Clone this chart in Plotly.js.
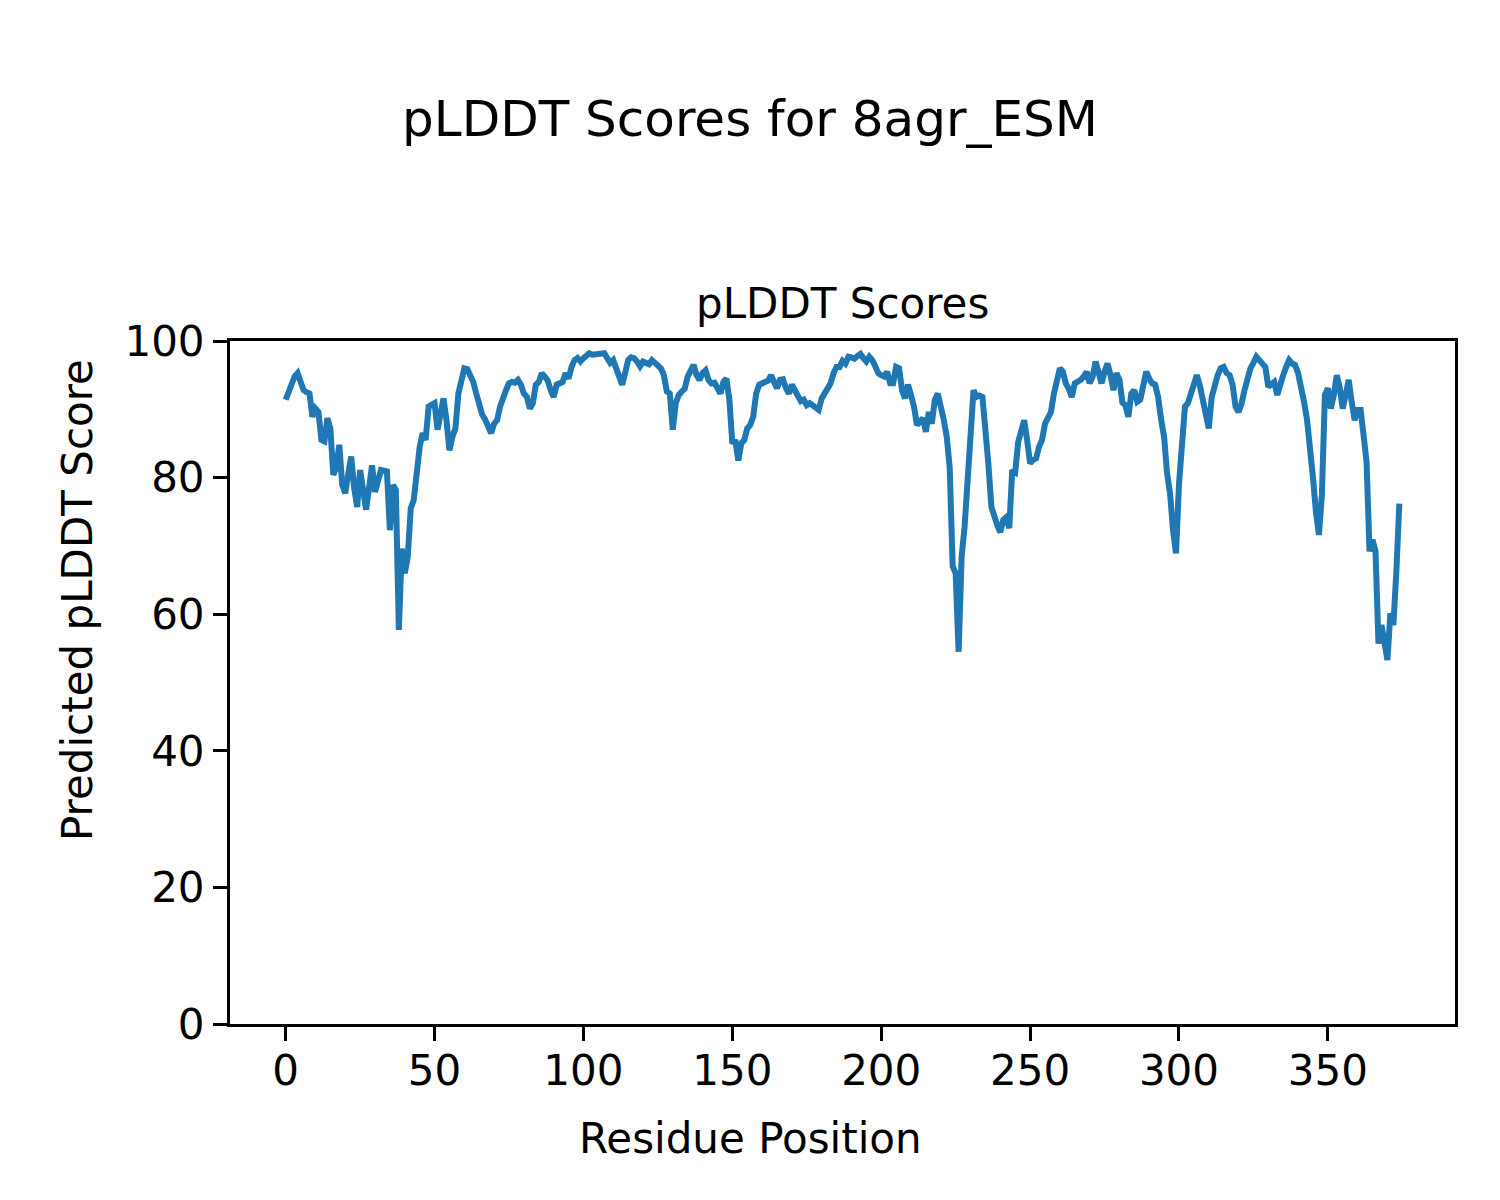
<!DOCTYPE html>
<html>
<head>
<meta charset="utf-8">
<script src="https://cdn.plot.ly/plotly-3.0.1.min.js"></script>
<style>html,body{margin:0;padding:0;background:#fff;}</style>
</head>
<body>
<div id="chart" style="width:1500px;height:1200px;"></div>
<script>
const figureTitle = "pLDDT Scores for 8agr_ESM";
const axesTitle = "pLDDT Scores";
const xLabel = "Residue Position";
const yLabel = "Predicted pLDDT Score";
const xTickVals = [0, 50, 100, 150, 200, 250, 300, 350];
const yTickVals = [0, 20, 40, 60, 80, 100];

// pLDDT score per residue (residue 0 .. 374)
const scores = [
  91.4, 92.6, 93.8, 94.8, 95.3, 94.0, 92.8, 92.5, 92.3, 88.9,
  90.1, 89.6, 85.5, 85.3, 88.7, 87.2, 80.4, 81.4, 84.8, 78.9,
  77.7, 80.5, 83.1, 78.5, 75.7, 81.1, 78.0, 75.3, 78.5, 81.8,
  77.9, 79.2, 81.1, 81.0, 80.9, 72.3, 78.9, 78.2, 57.7, 69.6,
  66.0, 68.4, 75.5, 76.7, 81.6, 84.5, 86.5, 85.5, 90.4, 90.7,
  90.9, 87.0, 88.9, 91.6, 88.4, 84.0, 86.0, 87.2, 92.3, 94.3,
  96.0, 95.9, 95.0, 94.0, 92.3, 90.6, 89.2, 88.5, 87.6, 86.5,
  87.9, 88.4, 90.4, 91.8, 92.8, 93.8, 94.0, 93.9, 94.3, 93.6,
  92.3, 91.8, 90.1, 90.9, 93.6, 94.0, 95.3, 94.8, 94.2, 92.8,
  91.8, 93.6, 93.8, 94.0, 95.3, 94.5, 96.2, 97.2, 97.5, 97.0,
  97.5, 97.8, 98.2, 98.0, 98.0, 98.0, 98.0, 98.2, 97.5, 96.8,
  97.2, 96.0, 94.5, 93.6, 95.3, 97.2, 97.6, 97.5, 97.0, 96.3,
  97.0, 96.7, 96.6, 97.2, 96.8, 96.6, 96.0, 95.0, 92.6, 92.3,
  87.0, 90.9, 92.1, 92.6, 93.0, 94.8, 95.8, 96.5, 95.0, 94.3,
  95.3, 95.7, 94.3, 93.8, 93.9, 93.1, 92.3, 94.0, 94.5, 91.5,
  85.0, 85.5, 82.5, 85.0, 85.5, 87.2, 87.7, 88.9, 92.3, 93.6,
  93.9, 94.0, 94.2, 95.0, 94.0, 93.1, 94.3, 94.4, 93.1, 92.3,
  93.6, 92.8, 91.8, 91.2, 91.4, 90.6, 90.9, 90.6, 90.4, 89.9,
  91.6, 92.3, 93.0, 93.8, 95.3, 96.2, 96.2, 97.1, 96.7, 97.7,
  97.6, 97.4, 97.8, 98.1, 97.5, 97.0, 97.7, 97.2, 96.3, 95.3,
  95.0, 94.8, 95.5, 93.8, 93.8, 96.2, 96.0, 92.8, 91.6, 93.6,
  92.1, 90.4, 87.7, 88.2, 88.7, 86.7, 89.6, 87.9, 91.4, 92.3,
  90.6, 88.5, 86.0, 81.5, 67.0, 66.0, 54.5, 68.4, 72.8, 80.7,
  88.5, 92.8, 91.8, 92.0, 91.8, 87.5, 82.0, 75.7, 74.2, 73.0,
  72.0, 73.8, 74.2, 72.6, 81.1, 80.8, 85.2, 87.0, 88.4, 85.5,
  82.1, 82.6, 82.8, 84.5, 85.5, 87.9, 88.7, 89.6, 92.3, 94.5,
  96.0, 95.5, 93.8, 93.0, 91.8, 93.8, 94.0, 94.3, 94.8, 95.5,
  93.8, 94.8, 97.0, 95.3, 93.8, 95.5, 96.7, 95.0, 92.8, 95.3,
  94.3, 91.0, 90.6, 88.9, 92.3, 92.8, 91.1, 91.4, 93.5, 95.5,
  94.5, 93.8, 93.6, 91.8, 88.5, 86.0, 80.6, 77.7, 72.3, 68.9,
  79.0, 86.5, 90.4, 90.9, 92.5, 93.8, 95.0, 93.5, 91.5, 89.5,
  87.2, 91.8, 93.5, 95.0, 96.0, 96.2, 95.3, 95.0, 93.6, 90.4,
  89.6, 90.8, 92.8, 94.5, 96.0, 96.8, 97.7, 97.2, 96.7, 96.2,
  93.3, 93.6, 94.0, 92.1, 93.8, 95.0, 96.2, 97.2, 96.7, 96.5,
  95.3, 93.6, 91.1, 88.5, 85.0, 80.0, 75.0, 71.6, 77.5, 92.1,
  93.1, 90.1, 92.1, 95.0, 93.1, 90.1, 92.1, 94.3, 91.1, 88.4,
  89.9, 89.9, 86.2, 82.3, 69.2, 70.9, 69.2, 55.7, 58.4, 55.7,
  53.3, 60.1, 58.4, 66.2, 76.2
];
const residues = scores.map((_, i) => i);

const FONT = "DejaVu Sans, sans-serif";
const L = 230, R = 45, T = 341, B = 176, W = 1500, H = 1200;
const pw = W - L - R, ph = H - T - B;
const px2paperX = px => (px - L) / pw;
const py2paperY = py => (H - B - py) / ph;

const trace = {
  x: residues,
  y: scores,
  type: "scatter",
  mode: "lines",
  line: {color: "#1f77b4", width: 6},
  hoverinfo: "skip"
};

const n = scores.length - 1;
const pad = n * 0.05;

const layout = {
  width: W, height: H,
  margin: {l: L, r: R, t: T, b: B, pad: 0},
  paper_bgcolor: "#ffffff",
  plot_bgcolor: "#ffffff",
  showlegend: false,
  font: {family: FONT, color: "#000000", size: 42},
  title: {
    text: figureTitle,
    font: {family: FONT, size: 50, color: "#000000"},
    x: 0.5, xref: "container", xanchor: "center",
    y: 1 - 118 / H, yref: "container", yanchor: "middle"
  },
  xaxis: {
    range: [-pad, n + pad],
    tickmode: "array",
    tickvals: xTickVals,
    ticktext: xTickVals.map(String),
    ticks: "outside", ticklen: 14, tickwidth: 3, tickcolor: "#000",
    ticklabelstandoff: -6,
    showline: true, linecolor: "#000", linewidth: 3, mirror: true,
    showgrid: false, zeroline: false,
    tickfont: {family: FONT, size: 42, color: "#000"}
  },
  yaxis: {
    range: [0, 100],
    tickmode: "array",
    tickvals: yTickVals,
    ticktext: yTickVals.map(String),
    ticks: "outside", ticklen: 14, tickwidth: 3, tickcolor: "#000",
    showline: true, linecolor: "#000", linewidth: 3, mirror: true,
    showgrid: false, zeroline: false,
    tickfont: {family: FONT, size: 42, color: "#000"}
  },
  annotations: [
    {
      text: axesTitle, showarrow: false,
      xref: "paper", yref: "paper",
      x: 0.5, y: py2paperY(303), xanchor: "center", yanchor: "middle",
      font: {family: FONT, size: 42, color: "#000"}
    },
    {
      text: xLabel, showarrow: false,
      xref: "paper", yref: "paper",
      x: px2paperX(750), y: py2paperY(1138), xanchor: "center", yanchor: "middle",
      font: {family: FONT, size: 42, color: "#000"}
    },
    {
      text: yLabel, showarrow: false, textangle: -90,
      xref: "paper", yref: "paper",
      x: px2paperX(77), y: py2paperY(600), xanchor: "center", yanchor: "middle",
      font: {family: FONT, size: 42, color: "#000"}
    }
  ]
};

Plotly.newPlot("chart", [trace], layout, {displayModeBar: false, staticPlot: true});
</script>
</body>
</html>
